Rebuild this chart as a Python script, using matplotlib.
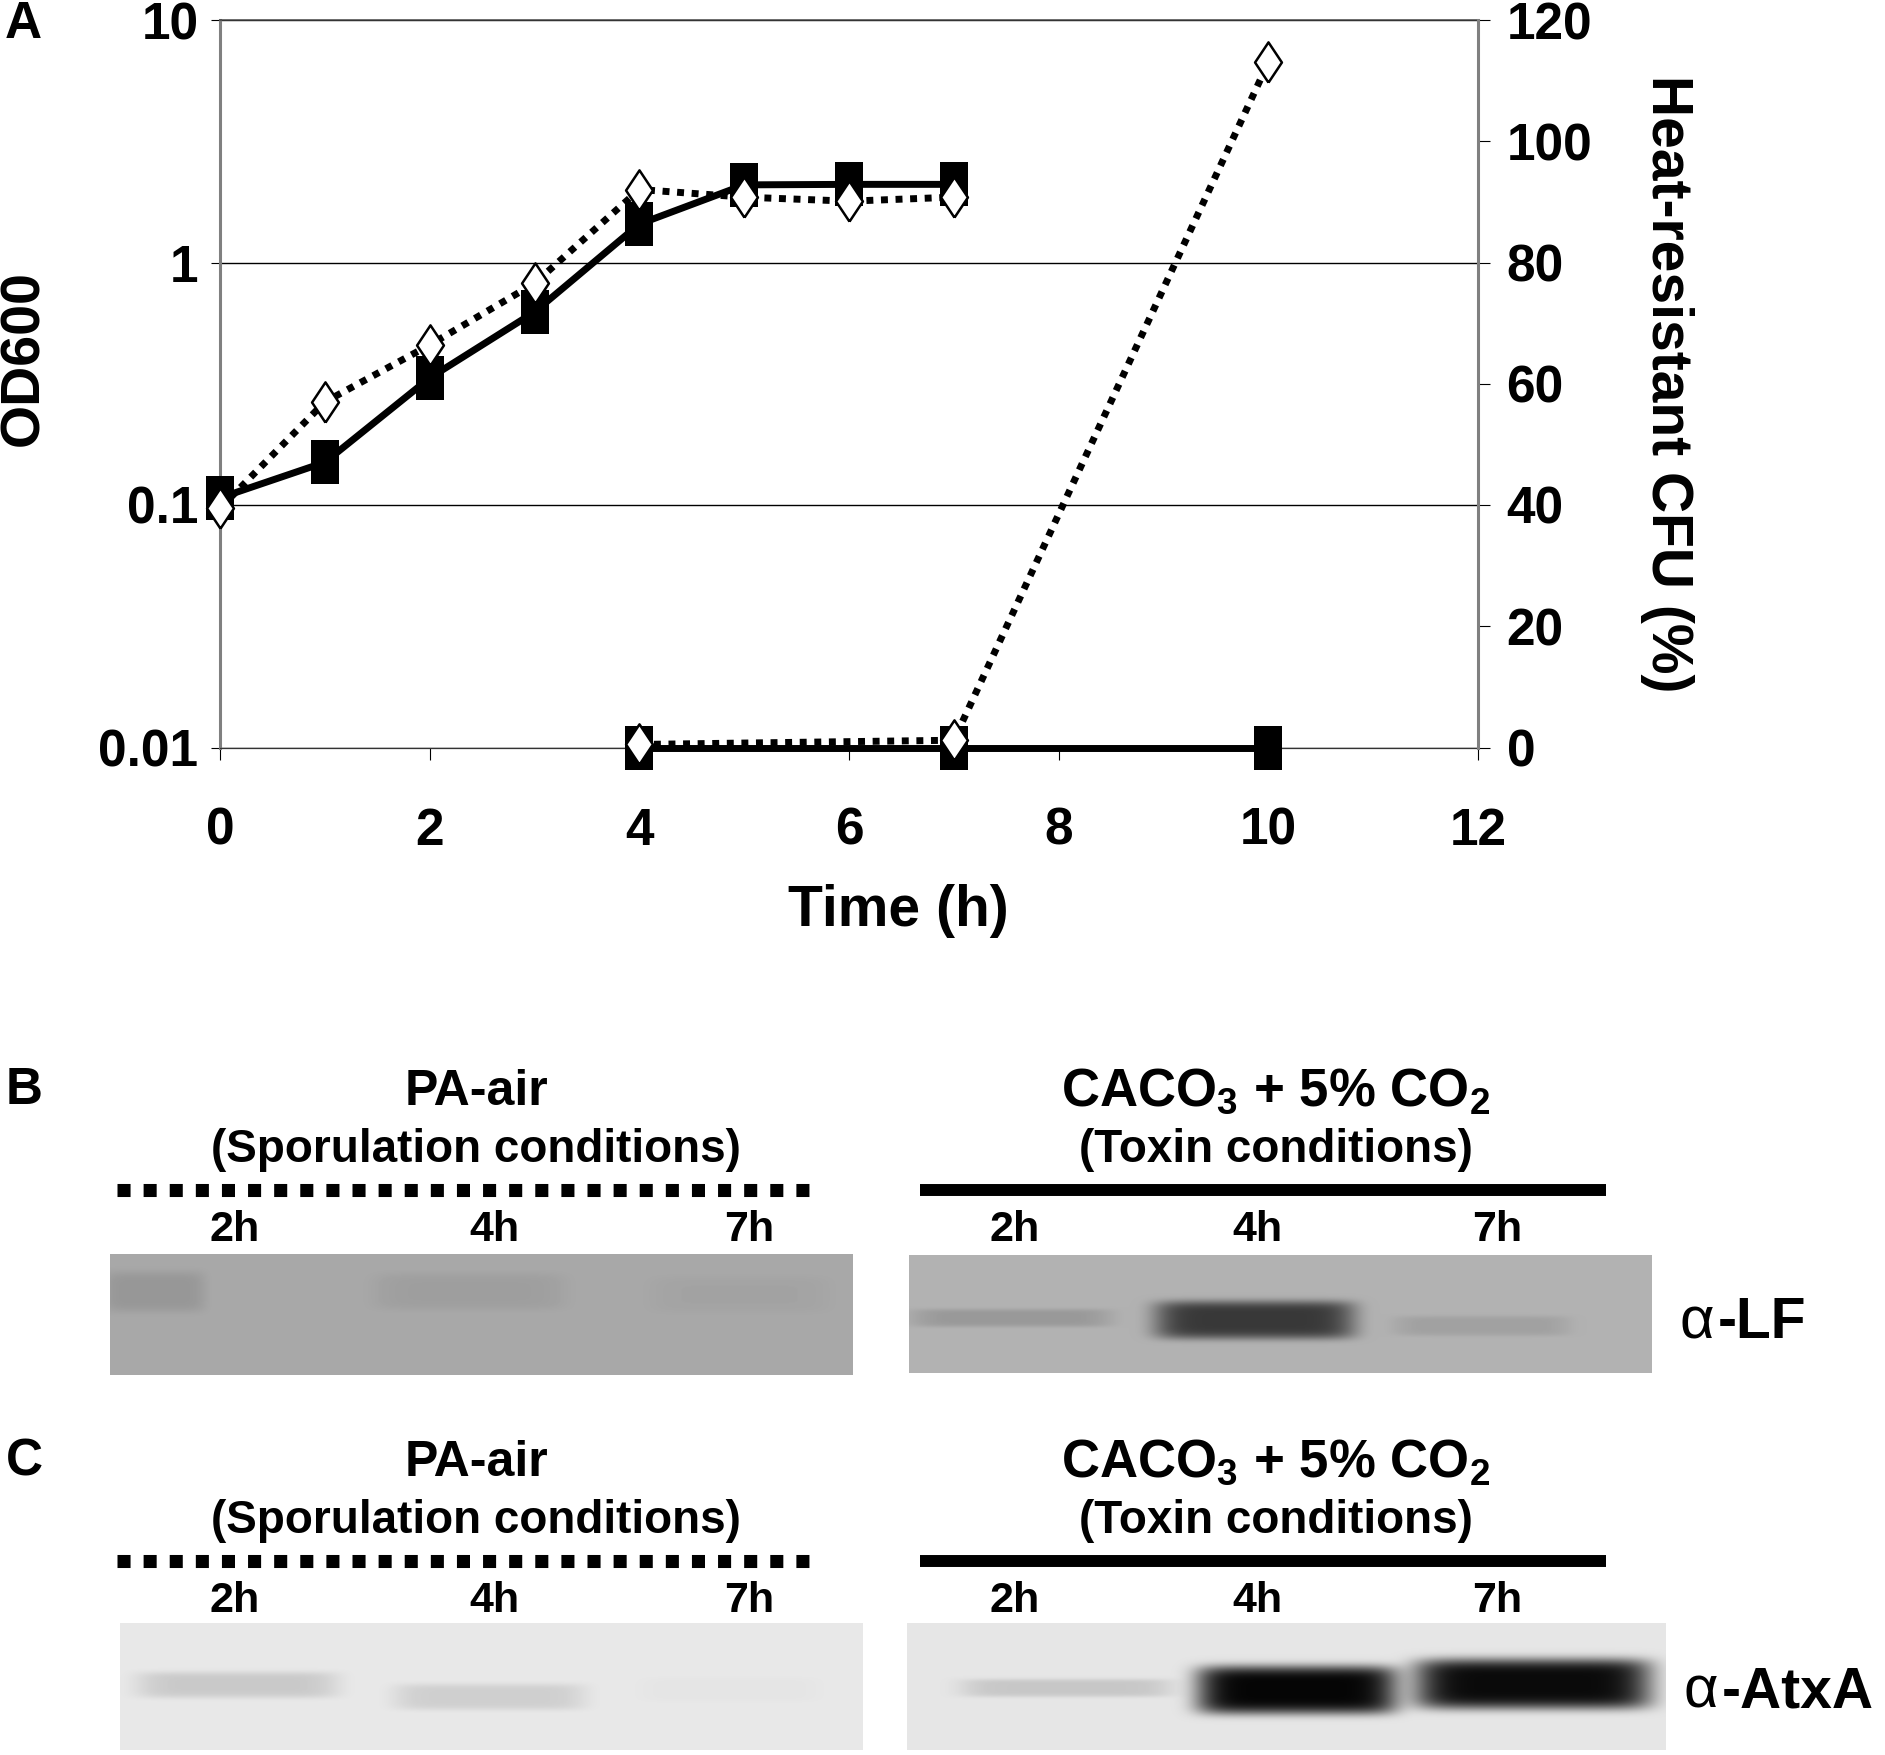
import numpy as np
import matplotlib
matplotlib.use("Agg")
import matplotlib.pyplot as plt
import matplotlib.ticker as mticker
from matplotlib.path import Path

plt.rcParams['font.family'] = ['Liberation Sans', 'DejaVu Sans']
plt.rcParams['font.weight'] = 'bold'
plt.rcParams['mathtext.fontset'] = 'custom'
plt.rcParams['mathtext.rm'] = 'Liberation Sans:bold'
plt.rcParams['mathtext.bf'] = 'Liberation Sans:bold'
plt.rcParams['mathtext.it'] = 'Liberation Sans:bold'
plt.rcParams['mathtext.default'] = 'bf'

# ---- data: panel A (growth + sporulation) ----
time_od = [0, 1, 2, 3, 4, 5, 6, 7]
od_toxin = [0.107, 0.150, 0.334, 0.625, 1.44, 2.09, 2.10, 2.10]      # filled squares, solid
od_spore = [0.097, 0.266, 0.457, 0.82, 2.0, 1.86, 1.79, 1.86]        # open diamonds, dotted
time_cfu = [4, 7, 10]
cfu_toxin = [0, 0, 0]
cfu_spore = [0.5, 1.2, 113]

od_ticks = [0.01, 0.1, 1, 10]
od_labels = ['0.01', '0.1', '1', '10']
cfu_ticks = [0, 20, 40, 60, 80, 100, 120]
time_ticks = [0, 2, 4, 6, 8, 10, 12]

# ---- data: western blots (band darkness per lane 2h, 4h, 7h) ----
hours = ['2h', '4h', '7h']
lf_spore = [0.07, 0.04, 0.02]
lf_toxin = [0.10, 0.48, 0.07]
atxa_spore = [0.12, 0.10, 0.015]
atxa_toxin = [0.12, 0.88, 0.86]

W, H = 1885, 1755
fig = plt.figure(figsize=(W / 100, H / 100), dpi=100)

# overlay in pixel coordinates for panel B/C
ov = fig.add_axes([0, 0, 1, 1])
ov.patch.set_visible(False)
ov.axis('off')


def blot(x0, x1, y0, y1, bg, strengths, xc, hw, yc, hh):
    xs = np.arange(x0, x1) + 0.5
    ys = np.arange(y0, y1) + 0.5
    X, Y = np.meshgrid(xs, ys)
    img = np.full(X.shape, bg, dtype=float)
    for s, c, w, cy, h in zip(strengths, xc, hw, yc, hh):
        img -= s * np.exp(-np.abs((X - c) / w) ** 8) * np.exp(-np.abs((Y - cy) / h) ** 5)
    ov.imshow(np.clip(img, 0, 1), cmap='gray', vmin=0, vmax=1, extent=[x0, x1, y1, y0],
              interpolation='bilinear', aspect='auto')


blot(110, 853, 1254, 1375, 0.66, lf_spore, [155, 470, 740], [50, 95, 90], [1292, 1292, 1295], [20, 18, 18])
blot(909, 1652, 1255, 1373, 0.70, lf_toxin, [1012, 1255, 1482], [100, 100, 88], [1318, 1320, 1326], [9, 19, 10])
blot(120, 863, 1623, 1750, 0.91, atxa_spore, [238, 490, 730], [100, 95, 90], [1685, 1697, 1690], [13, 13, 12])
blot(907, 1666, 1623, 1750, 0.90, atxa_toxin, [1067, 1297, 1533], [105, 100, 118], [1688, 1690, 1684], [9, 24, 25])

for dy, letter, ab in [(0, 'B', '-LF'), (371, 'C', '-AtxA')]:
    ov.text(6, 1091 + dy, letter, fontsize=37, ha='left', va='center')
    ov.text(476, 1092 + dy, 'PA-air', fontsize=36, ha='center', va='center')
    ov.text(476, 1150 + dy, '(Sporulation conditions)', fontsize=33, ha='center', va='center')
    ov.text(1276, 1092 + dy, r'CACO$_3$ + 5% CO$_2$', fontsize=38, ha='center', va='center')
    ov.text(1276, 1150 + dy, '(Toxin conditions)', fontsize=33, ha='center', va='center')
    ov.plot([117, 820], [1190 + dy, 1190 + dy], color='k', lw=9.4, ls=(0, (1, 1)),
            dash_capstyle='butt')
    ov.plot([920, 1606], [1190 + dy, 1190 + dy], color='k', lw=8.6, solid_capstyle='butt')
    for hx, lab in zip([235, 494, 749], hours):
        ov.text(hx, 1230 + dy, lab, fontsize=31, ha='center', va='center')
    for hx, lab in zip([1015, 1257, 1497], hours):
        ov.text(hx, 1230 + dy, lab, fontsize=31, ha='center', va='center')
    ov.text(1680 + (4 if dy else 0), 1323 + dy - (0 if not dy else 2), '\u03b1', fontsize=43,
            fontweight='normal', ha='left', va='center')
    ov.text(1718 + (4 if dy else 0), 1323 + dy - (0 if not dy else 2), ab, fontsize=41,
            ha='left', va='center')

ov.text(5, 24, 'A', fontsize=37, ha='left', va='center')
ov.text(24, 358, 'OD600', fontsize=40, rotation=90, ha='center', va='center')
ov.text(898, 911, 'Time (h)', fontsize=41, ha='center', va='center')
ov.text(1667, 384, 'Heat-resistant CFU (%)', fontsize=41, rotation=-90, ha='center', va='center')
ov.set_xlim(0, W)
ov.set_ylim(H, 0)

# ---- panel A ----
ax = fig.add_axes([220 / W, 1 - 747.5 / H, 1258 / W, 727.5 / H])
ax.set_yscale('log')
ax.set_ylim(0.01, 10)
ax.set_xlim(0, 12)
ax.patch.set_visible(False)
ax.set_yticks(od_ticks)
ax.set_yticklabels(od_labels)
ax.yaxis.set_minor_locator(mticker.NullLocator())
ax.set_xticks(time_ticks)
ax.grid(axis='y', which='major', color='k', lw=1.0)
ax.tick_params(axis='y', direction='out', length=6.5, width=0.8, labelsize=37, pad=9)
ax.tick_params(axis='x', direction='out', length=8.6, width=0.8, labelsize=37, pad=34)
ax.spines['left'].set_color('#808080')
ax.spines['left'].set_linewidth(2.2)
ax.spines['right'].set_visible(False)
ax.spines['top'].set_color('#444444')
ax.spines['top'].set_linewidth(1.1)
ax.spines['bottom'].set_color('#333333')
ax.spines['bottom'].set_linewidth(0.9)

rect_marker = Path([(-2, -3), (2, -3), (2, 3), (-2, 3), (-2, -3)])
diamond_marker = Path([(0, -3), (2, 0), (0, 3), (-2, 0), (0, -3)])

ax.plot(time_od, od_toxin, color='k', lw=5, marker=rect_marker, ms=31,
        mfc='k', mec='k', mew=0, clip_on=False, zorder=3)
ax.plot(time_od, od_spore, color='k', lw=5, ls=(0, (1, 1.1)), dash_capstyle='butt',
        marker=diamond_marker, ms=29, mfc='white', mec='k', mew=1.8, clip_on=False, zorder=4)

ax2 = ax.twinx()
ax2.set_ylim(0, 120)
ax2.set_yticks(cfu_ticks)
ax2.tick_params(axis='y', direction='out', length=8.6, width=0.8, labelsize=37, pad=12)
for s in ['left', 'top', 'bottom']:
    ax2.spines[s].set_visible(False)
ax2.spines['right'].set_color('#808080')
ax2.spines['right'].set_linewidth(2.2)

ax2.plot(time_cfu, cfu_toxin, color='k', lw=5, marker=rect_marker, ms=31,
         mfc='k', mec='k', mew=0, clip_on=False, zorder=3)
ax2.plot(time_cfu, cfu_spore, color='k', lw=5, ls=(0, (1, 1.1)), dash_capstyle='butt',
         marker=diamond_marker, ms=29, mfc='white', mec='k', mew=1.8, clip_on=False, zorder=4)

fig.savefig('out.png', dpi=100)
